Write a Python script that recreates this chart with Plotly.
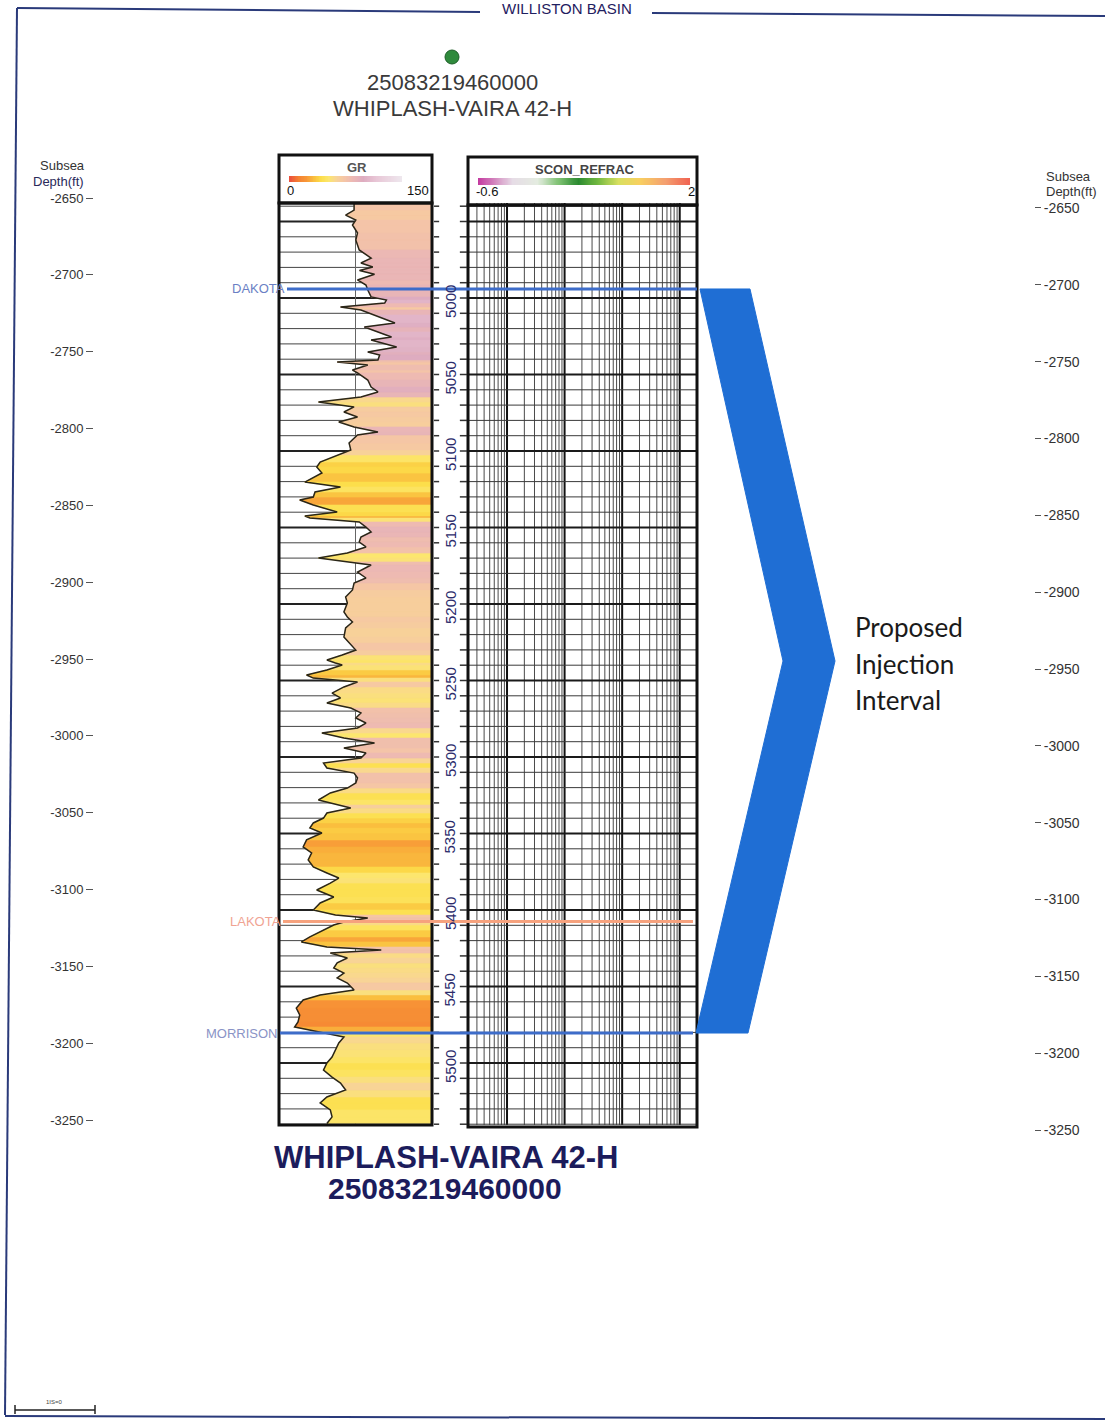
import math
import plotly.graph_objects as go

W, H = 1105, 1421


def px(x):
    return x / W


def py(y):
    return 1 - y / H


# ------------------------------------------------------------------ data
md = [4938.0, 4942.5, 4945.8, 4949.0, 4952.3, 4957.5, 4962.1, 4968.6, 4973.9, 4977.1,
      4979.7, 4982.0, 4984.5, 4988.2, 4991.5, 4994.8, 4999.3, 5001.3, 5003.3, 5005.9,
      5007.8, 5011.1, 5016.3, 5019.0, 5022.2, 5025.5, 5027.5, 5032.0, 5035.3, 5037.3,
      5040.5, 5041.8, 5043.8, 5047.1, 5049.0, 5053.6, 5058.2, 5061.4, 5064.7, 5068.0,
      5071.2, 5074.5, 5077.8, 5081.0, 5084.3, 5087.6, 5089.5, 5094.8, 5099.3, 5102.6,
      5107.2, 5110.5, 5114.4, 5120.3, 5123.5, 5126.8, 5130.1, 5132.0, 5135.3, 5139.9,
      5142.5, 5143.8, 5146.4, 5149.7, 5152.9, 5156.2, 5159.5, 5162.7, 5166.7, 5169.9,
      5172.5, 5174.5, 5179.1, 5183.0, 5186.3, 5190.8, 5195.4, 5199.3, 5205.2, 5208.5,
      5211.8, 5215.7, 5221.6, 5225.5, 5230.1, 5233.3, 5236.6, 5238.6, 5239.9, 5243.1,
      5246.4, 5248.4, 5251.0, 5254.2, 5258.2, 5261.4, 5264.7, 5268.0, 5271.2, 5274.5,
      5277.8, 5281.0, 5284.3, 5287.6, 5290.8, 5294.1, 5297.4, 5300.7, 5303.9, 5307.2,
      5310.5, 5313.7, 5317.0, 5320.3, 5323.5, 5328.1, 5331.4, 5333.3, 5336.6, 5339.9,
      5343.1, 5346.4, 5349.7, 5354.2, 5358.8, 5362.7, 5367.3, 5371.9, 5375.8, 5379.1,
      5382.4, 5386.9, 5391.5, 5395.4, 5400.0, 5403.3, 5405.2, 5407.8, 5409.8, 5413.1,
      5417.6, 5420.9, 5424.2, 5426.1, 5428.1, 5431.4, 5434.6, 5437.9, 5441.2, 5444.4,
      5447.7, 5452.3, 5455.5, 5458.8, 5464.1, 5468.6, 5473.2, 5476.5, 5479.7, 5483.0,
      5486.9, 5491.5, 5496.1, 5500.0, 5504.6, 5509.2, 5513.1, 5517.6, 5522.2, 5526.1,
      5530.7, 5535.2, 5539.5]

gr = [73.6, 73.6, 65.2, 75.3, 72.0, 77.0, 75.3, 78.7, 90.5, 80.4,
      92.2, 79.0, 93.9, 77.0, 85.4, 87.2, 90.5, 105.7, 104.0, 60.1,
      80.4, 93.9, 114.2, 83.8, 97.3, 110.8, 90.5, 115.9, 87.2, 99.0,
      97.3, 56.8, 87.2, 72.0, 77.0, 87.2, 90.5, 97.3, 80.4, 38.2,
      73.6, 63.5, 77.0, 58.4, 73.6, 97.3, 77.0, 68.6, 70.3, 58.4,
      39.9, 36.5, 41.6, 24.7, 60.1, 34.8, 33.1, 19.6, 33.1, 56.8,
      24.7, 29.7, 78.7, 85.4, 90.5, 80.4, 78.7, 85.4, 66.9, 38.2,
      70.3, 90.5, 77.0, 85.4, 73.6, 72.0, 65.2, 66.9, 63.5, 66.9,
      72.0, 65.2, 63.5, 68.6, 75.3, 61.8, 46.6, 55.1, 61.8, 46.6,
      26.4, 33.1, 77.0, 63.5, 51.7, 60.1, 46.6, 70.3, 80.4, 75.3,
      85.4, 77.0, 41.6, 63.5, 93.9, 63.5, 85.4, 80.4, 43.2, 46.6,
      73.6, 77.0, 75.3, 66.9, 50.0, 38.2, 60.1, 70.3, 46.6, 43.2,
      33.1, 29.7, 41.6, 26.4, 23.0, 31.4, 28.0, 33.1, 46.6, 58.4,
      50.0, 36.5, 53.4, 39.9, 33.1, 55.1, 87.2, 63.5, 53.4, 43.2,
      29.7, 21.3, 46.6, 100.6, 50.0, 66.9, 56.8, 53.4, 63.5, 56.8,
      66.9, 73.6, 39.9, 23.0, 16.2, 19.6, 17.9, 14.5, 39.9, 63.5,
      58.4, 55.1, 51.7, 46.6, 43.2, 51.7, 60.1, 65.2, 46.6, 39.9,
      50.0, 51.7, 46.6]

top_names = ["DAKOTA", "LAKOTA", "MORRISON"]
top_md = [4994.1, 5407.5, 5480.4]

md_labels = [5000, 5050, 5100, 5150, 5200, 5250, 5300, 5350, 5400, 5450, 5500]
subsea_labels = [-2650, -2700, -2750, -2800, -2850, -2900, -2950, -3000,
                 -3050, -3100, -3150, -3200, -3250]

gr_min, gr_max = 0, 150
gr_cut = 75
scon_left_label, scon_right_label = "-0.6", "2"
grid_top_md, grid_bot_md, grid_step = 4940, 5540, 10

well_api = "25083219460000"
well_name = "WHIPLASH-VAIRA 42-H"
basin_name = "WILLISTON BASIN"
interval_lines = ["Proposed", "Injection", "Interval"]

# ------------------------------------------------------------------ styles
top_line_colors = ["#3d6cc9", "#f6a27e", "#3d6cc9"]
top_text_colors = ["#6b7fc4", "#f0a392", "#8a93c6"]
top_label_right = [287, 283, 280]
top_line_start = [287, 283, 280]
top_line_end = [697, 693, 693]

gr_stops = [(0, (235, 80, 60)), (12, (245, 130, 50)), (22, (247, 150, 55)),
            (32, (250, 190, 62)), (42, (252, 222, 75)), (52, (252, 230, 110)),
            (62, (248, 212, 150)), (72, (245, 198, 165)), (84, (236, 184, 180)),
            (98, (222, 172, 192)), (115, (232, 198, 214)), (150, (238, 232, 238))]


def gr_rgb(v):
    v = max(gr_min, min(gr_max, v))
    for (a, ca), (b, cb) in zip(gr_stops[:-1], gr_stops[1:]):
        if a <= v <= b:
            t = (v - a) / (b - a) if b > a else 0
            return tuple(int(round(ca[i] + t * (cb[i] - ca[i]))) for i in range(3))
    return gr_stops[-1][1]


def rgb_str(c):
    return "rgb(%d,%d,%d)" % c


gr_colorscale = [[a / gr_max, rgb_str(c)] for a, c in gr_stops]
scon_colorscale = [[0.0, "#c43aa0"], [0.08, "#d48ac0"], [0.16, "#e6dce6"],
                   [0.28, "#e4ece0"], [0.38, "#7cc070"], [0.47, "#2a8a30"],
                   [0.56, "#70b840"], [0.66, "#d8e060"], [0.76, "#f8d060"],
                   [0.88, "#f4a070"], [1.0, "#f06050"]]

# axis ranges (pixel calibration of the picture)
MD_TOP, MD_BOT = 4805.23, 5733.98
SS_L_TOP, SS_L_BOT = -2521.15, -3445.86
SS_R_TOP, SS_R_BOT = -2514.65, -3439.35
TRACK_TOP_MD, TRACK_BOT_MD = 4937.9, 5540.5
LOG_LO, LOG_HI = math.log10(2.1), 4.3

fig = go.Figure()

# ---- GR track grid (drawn under the fill)
thin_x, thin_y, thick_x, thick_y = [], [], [], []
for d in range(grid_top_md, grid_bot_md + 1, grid_step):
    if d % 50 == 0:
        thick_x += [gr_min, gr_max, None]
        thick_y += [d, d, None]
    else:
        thin_x += [gr_min, gr_max, None]
        thin_y += [d, d, None]
fig.add_trace(go.Scatter(x=thin_x, y=thin_y, mode="lines", xaxis="x", yaxis="y2",
                         line=dict(color="#444444", width=1), hoverinfo="skip"))
fig.add_trace(go.Scatter(x=thick_x, y=thick_y, mode="lines", xaxis="x", yaxis="y2",
                         line=dict(color="#222222", width=2), hoverinfo="skip"))
fig.add_trace(go.Scatter(x=[gr_cut, gr_cut], y=[TRACK_TOP_MD, TRACK_BOT_MD], mode="lines",
                         xaxis="x", yaxis="y2", line=dict(color="#666666", width=1),
                         hoverinfo="skip"))

# ---- GR colour fill: curve -> right edge, coloured by GR
groups = {}
for i in range(len(md) - 1):
    avg = (gr[i] + gr[i + 1]) / 2.0
    key = round(avg / 2.0) * 2.0
    xs, ys = groups.setdefault(key, ([], []))
    xs += [gr[i], gr_max, gr_max, gr[i + 1], gr[i], None]
    ys += [md[i], md[i], md[i + 1], md[i + 1], md[i], None]
for key, (xs, ys) in sorted(groups.items()):
    col = rgb_str(gr_rgb(key))
    fig.add_trace(go.Scatter(x=xs, y=ys, mode="lines", fill="toself", fillcolor=col,
                             line=dict(color=col, width=0.6), xaxis="x", yaxis="y2",
                             hoverinfo="skip"))

# ---- GR curve
fig.add_trace(go.Scatter(x=gr, y=md, mode="lines", xaxis="x", yaxis="y2",
                         line=dict(color="#2a2618", width=1.5), name="GR"))

# ---- SCON_REFRAC log grid
vmin_x, vmin_y, vmaj_x, vmaj_y = [], [], [], []
for k in range(0, 5):
    for m in range(1, 10):
        lx = math.log10(m * 10 ** k)
        if LOG_LO < lx < LOG_HI:
            if m == 1:
                vmaj_x += [lx, lx, None]
                vmaj_y += [TRACK_TOP_MD, TRACK_BOT_MD, None]
            else:
                vmin_x += [lx, lx, None]
                vmin_y += [TRACK_TOP_MD, TRACK_BOT_MD, None]
hs_x, hs_y, hb_x, hb_y = [], [], [], []
for d in range(grid_top_md, grid_bot_md + 1, grid_step):
    if d % 50 == 0:
        hb_x += [LOG_LO, LOG_HI, None]
        hb_y += [d, d, None]
    else:
        hs_x += [LOG_LO, LOG_HI, None]
        hs_y += [d, d, None]
for xs, ys, col, wd in [(vmin_x, vmin_y, "#4a4a4a", 1), (vmaj_x, vmaj_y, "#111111", 2),
                        (hs_x, hs_y, "#3a3a3a", 1), (hb_x, hb_y, "#1a1a1a", 2)]:
    fig.add_trace(go.Scatter(x=xs, y=ys, mode="lines", xaxis="x2", yaxis="y2",
                             line=dict(color=col, width=wd), hoverinfo="skip"))

# ---- depth column ticks
dt_x, dt_y = [], []
for d in range(grid_top_md, grid_bot_md + 1, grid_step):
    dt_x += [0.08, 0.22, None, 0.78, 0.97, None]
    dt_y += [d, d, None, d, d, None]
fig.add_trace(go.Scatter(x=dt_x, y=dt_y, mode="lines", xaxis="x3", yaxis="y2",
                         line=dict(color="#333333", width=1.5), hoverinfo="skip"))

# ---- dummies so the subsea axes are drawn
fig.add_trace(go.Scatter(x=[0.5], y=[subsea_labels[0]], xaxis="x3", yaxis="y", mode="markers",
                         marker=dict(opacity=0), hoverinfo="skip"))
fig.add_trace(go.Scatter(x=[0.5], y=[subsea_labels[0]], xaxis="x3", yaxis="y3", mode="markers",
                         marker=dict(opacity=0), hoverinfo="skip"))

# ---- header colour bars
gr_bar = list(range(gr_min, gr_max + 1, 2))
fig.add_trace(go.Heatmap(z=[gr_bar], x=gr_bar, y=[0], colorscale=gr_colorscale,
                         zmin=gr_min, zmax=gr_max, showscale=False, zsmooth="best",
                         xaxis="x4", yaxis="y4", hoverinfo="skip"))
scon_bar = list(range(0, 101))
fig.add_trace(go.Heatmap(z=[scon_bar], x=scon_bar, y=[0], colorscale=scon_colorscale,
                         zmin=0, zmax=100, showscale=False, zsmooth="best",
                         xaxis="x5", yaxis="y5", hoverinfo="skip"))

hidden = dict(visible=False, showgrid=False, zeroline=False, fixedrange=True)
tickfont_l = dict(family="Liberation Sans, Arial", size=13, color="#333333")
tickfont_r = dict(family="Liberation Sans, Arial", size=14, color="#333333")

fig.update_layout(
    width=W, height=H, margin=dict(l=0, r=0, t=0, b=0),
    paper_bgcolor="white", plot_bgcolor="rgba(0,0,0,0)", showlegend=False,
    xaxis=dict(domain=[px(280), px(431)], range=[gr_min, gr_max], anchor="y2", **hidden),
    xaxis2=dict(domain=[px(468), px(697)], range=[LOG_LO, LOG_HI], anchor="y2", **hidden),
    xaxis3=dict(domain=[px(431), px(468)], range=[0, 1], anchor="y2", **hidden),
    xaxis4=dict(domain=[px(289), px(402)], range=[gr_min, gr_max], anchor="y4", **hidden),
    xaxis5=dict(domain=[px(478), px(690)], range=[0, 100], anchor="y5", **hidden),
    yaxis=dict(domain=[0, 1], range=[SS_L_BOT, SS_L_TOP], anchor="free", position=px(93),
               side="left", tickmode="array", tickvals=subsea_labels,
               ticktext=[str(v) for v in subsea_labels], ticks="outside", ticklen=7,
               tickwidth=1, tickcolor="#555555", showgrid=False, zeroline=False,
               showline=False, tickfont=tickfont_l, fixedrange=True, automargin=False),
    yaxis2=dict(overlaying="y", range=[MD_BOT, MD_TOP], **hidden),
    yaxis3=dict(overlaying="y", range=[SS_R_BOT, SS_R_TOP], anchor="free",
                position=px(1034), side="right", tickmode="array", tickvals=subsea_labels,
                ticktext=[str(v) for v in subsea_labels], ticks="outside", ticklen=6,
                tickwidth=1, tickcolor="#555555", showgrid=False, zeroline=False,
                showline=False, tickfont=tickfont_r, fixedrange=True, automargin=False),
    yaxis4=dict(domain=[py(182), py(176)], range=[-0.5, 0.5], anchor="x4", **hidden),
    yaxis5=dict(domain=[py(185), py(178)], range=[-0.5, 0.5], anchor="x5", **hidden),
)

# ------------------------------------------------------------------ shapes
shapes = []


def rect(x0, y0, x1, y1, w=3, col="#111111"):
    shapes.append(dict(type="rect", xref="paper", yref="paper", x0=px(x0), x1=px(x1),
                       y0=py(y1), y1=py(y0), line=dict(color=col, width=w),
                       fillcolor="rgba(0,0,0,0)"))


def pline(x0, y0, x1, y1, w=2, col="#2a3a7a"):
    shapes.append(dict(type="line", xref="paper", yref="paper", x0=px(x0), x1=px(x1),
                       y0=py(y0), y1=py(y1), line=dict(color=col, width=w)))


rect(279, 155, 432, 203)
rect(279, 203, 432, 1125)
rect(468, 157, 697, 205)
rect(468, 205, 697, 1127)

# formation tops
for name, d, c, x0, x1 in zip(top_names, top_md, top_line_colors, top_line_start, top_line_end):
    shapes.append(dict(type="line", xref="paper", yref="y2", x0=px(x0), x1=px(x1),
                       y0=d, y1=d, line=dict(color=c, width=3)))

# proposed injection interval chevron (Dakota -> Morrison)
t_md, b_md = top_md[0], top_md[2]
m_md = (t_md + b_md) / 2.0
pts = [(700, t_md), (750, t_md), (835, m_md), (748, b_md), (696, b_md), (783, m_md)]
path = "M " + " L ".join("%.5f,%.3f" % (px(x), y) for x, y in pts) + " Z"
shapes.append(dict(type="path", xref="paper", yref="y2", path=path,
                   fillcolor="#1f6ed4", line=dict(color="#1f6ed4", width=1)))

# well symbol
shapes.append(dict(type="circle", xref="paper", yref="paper", x0=px(445), x1=px(459),
                   y0=py(64), y1=py(50), fillcolor="#2f8a3c", line=dict(color="#1d5e28", width=1)))

# page frame
pline(17, 8, 480, 12)
pline(652, 13, 1105, 16)
pline(17, 8, 5, 1415)
pline(5, 1416, 1105, 1419)
# scale bar
pline(15, 1410, 95, 1410, w=1.5, col="#222222")
pline(15, 1405, 15, 1414, w=1.5, col="#222222")
pline(95, 1405, 95, 1414, w=1.5, col="#222222")

fig.update_layout(shapes=shapes)

# ------------------------------------------------------------------ annotations
ann = []


def text(x, y, s, size=13, col="#333333", xanchor="center", family="Liberation Sans, Arial",
         yanchor="middle", angle=0, yref="paper"):
    ann.append(dict(x=px(x), y=(py(y) if yref == "paper" else y), xref="paper", yref=yref,
                    text=s, showarrow=False, xanchor=xanchor, yanchor=yanchor,
                    textangle=angle, font=dict(size=size, color=col, family=family)))


text(567, 8, basin_name, size=15, col="#1f2060")
text(452, 83, well_api, size=22, col="#3a3a3a")
text(452, 109, well_name, size=22, col="#3a3a3a")

text(357, 167, "<b>GR</b>", size=13, col="#555555")
text(285, 190, str(gr_min), size=13, col="#111111", xanchor="left")
text(431, 190, str(gr_max), size=13, col="#111111", xanchor="right")
text(585, 170, "<b>SCON_REFRAC</b>", size=13, col="#444444")
text(474, 192, scon_left_label, size=13, col="#111111", xanchor="left")
text(697, 192, scon_right_label, size=13, col="#111111", xanchor="right")

text(62, 165, "Subsea", size=13, col="#333333")
text(58, 181, "Depth(ft)", size=13, col="#2a2a5a")
text(1068, 176, "Subsea", size=13, col="#333333")
text(1071, 191, "Depth(ft)", size=13, col="#333333")

for d in md_labels:
    ann.append(dict(x=px(450), y=d, xref="paper", yref="y2", text=str(d), showarrow=False,
                    textangle=-90, yshift=-4, xanchor="center", yanchor="middle",
                    font=dict(size=15, color="#2b2b6b", family="Liberation Sans, Arial")))

for name, d, c, xr in zip(top_names, top_md, top_text_colors, top_label_right):
    ann.append(dict(x=px(xr), y=d, xref="paper", yref="y2", text=name, showarrow=False,
                    xanchor="right", yanchor="middle",
                    font=dict(size=13, color=c, family="Liberation Sans, Arial")))

for s, y in zip(interval_lines, [627, 664, 700]):
    text(853, y, s, size=26, col="#1a1a1a", xanchor="left", family="Lato, Open Sans")

text(446, 1157, "<b>" + well_name + "</b>", size=31, col="#1c1c5c")
text(445, 1188, "<b>" + well_api + "</b>", size=30, col="#1c1c5c")
text(55, 1402, "1IS=0", size=6, col="#444444")

fig.update_layout(annotations=ann)

fig.write_html("out.html", config={"displayModeBar": False},
               post_script="document.body.style.margin='0px';document.body.style.padding='0px';")
